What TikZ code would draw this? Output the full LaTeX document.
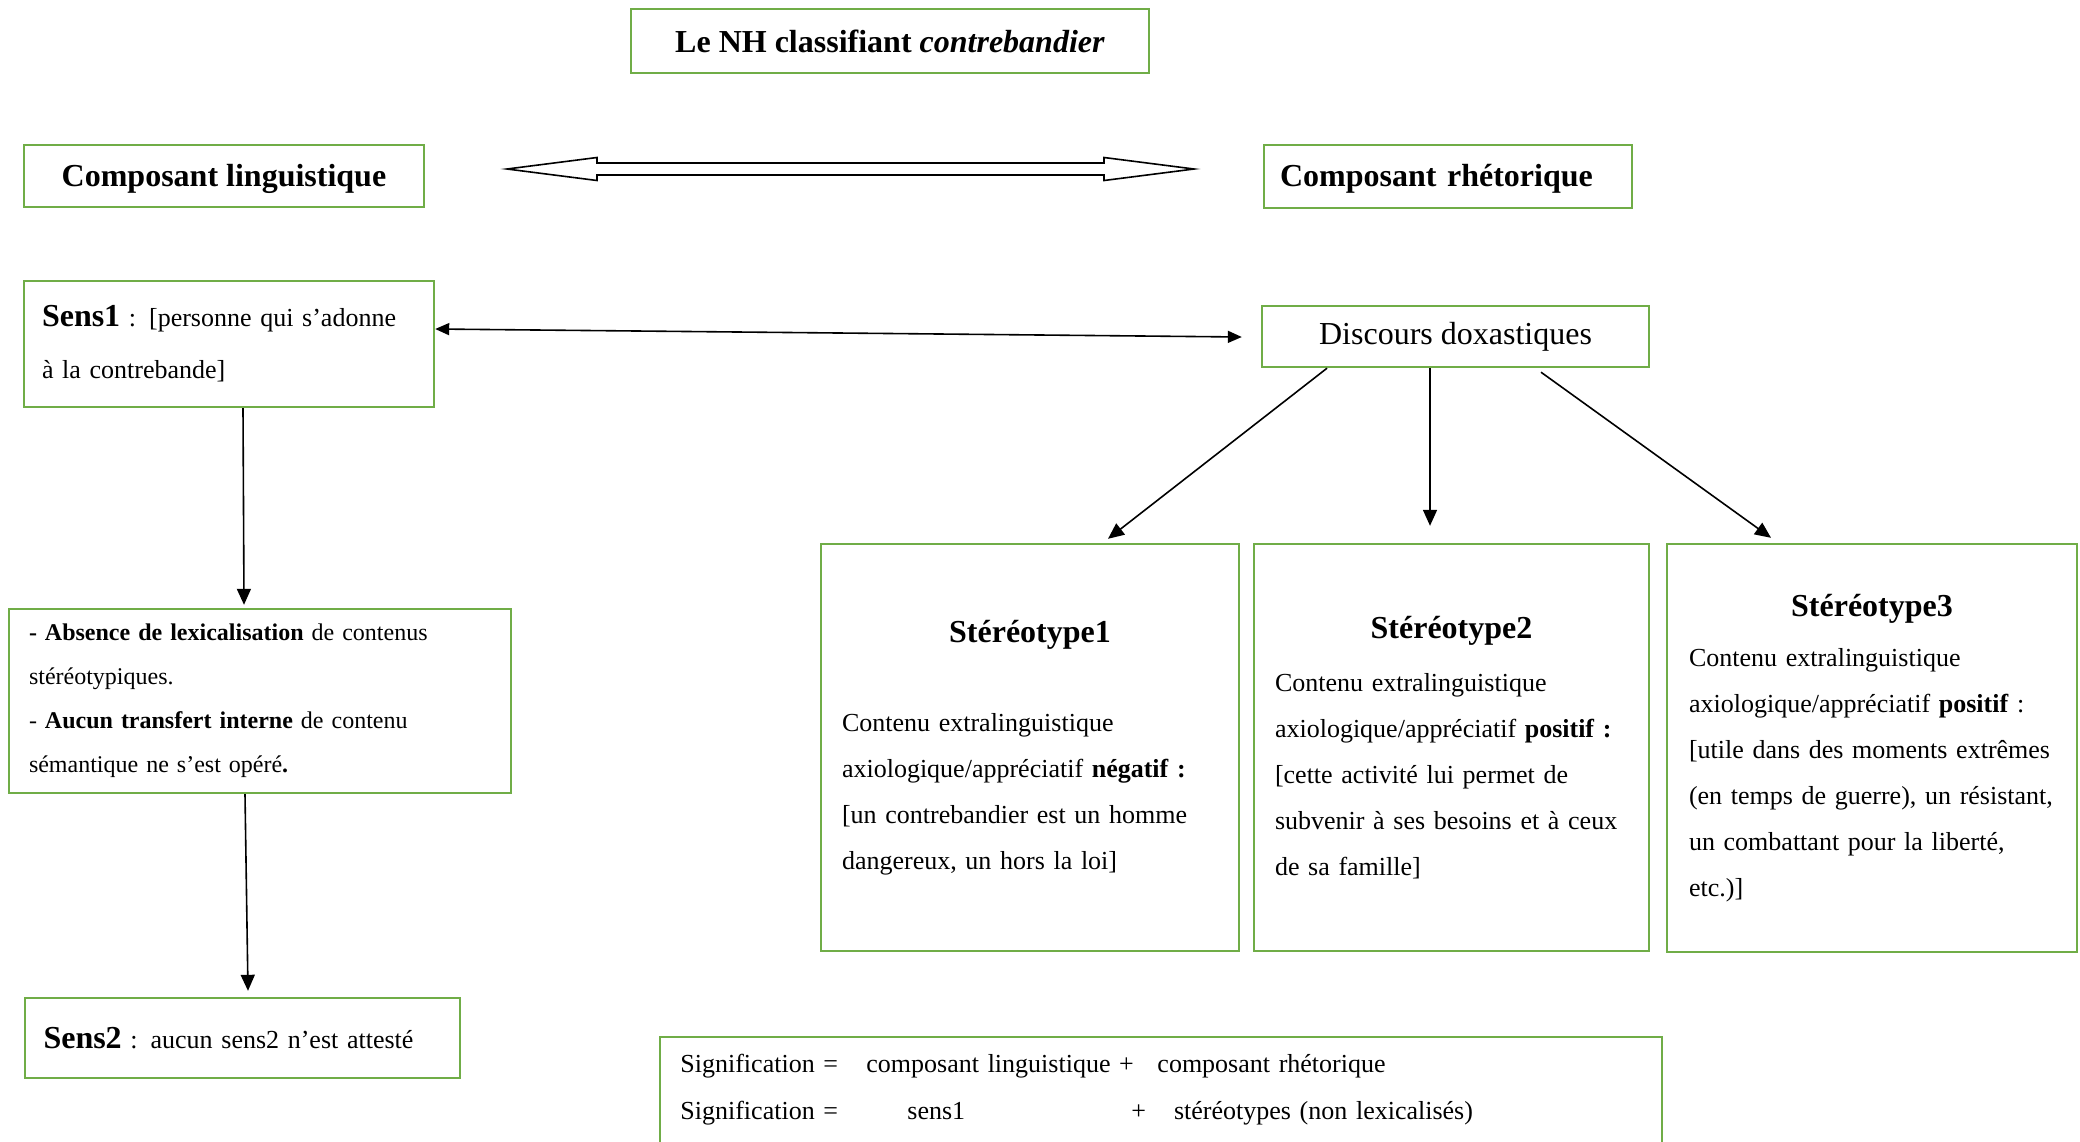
\documentclass[tikz,border=0pt]{standalone}
\usepackage{fontspec}
\setmainfont{Liberation Serif}
\usepackage{xcolor}
\usepackage{tikz}
\usetikzlibrary{arrows.meta,calc}
\definecolor{boxgreen}{RGB}{112,173,71}

\begin{document}
\begin{tikzpicture}[x=0.5pt,y=-0.5pt,
    box/.style={draw=boxgreen, line width=1.2pt, inner sep=0pt, fill=white},
    big/.style={font=\fontsize{16}{19}\selectfont},
    arr/.style={-{Triangle[length=8pt,width=7pt]}, line width=0.8pt},
    biarr/.style={{Triangle[length=7pt,width=6pt]}-{Triangle[length=7pt,width=6pt]}, line width=0.8pt}]
  \useasboundingbox (0,0) rectangle (2080,1141);

  % Title
  \node[box, big, minimum width=259pt, minimum height=32pt] (titre) at (890,41)
    {\bfseries Le NH classifiant \textit{contrebandier}};

  % Components
  \node[box, big, minimum width=200pt, minimum height=31pt, text depth=1pt] (compL) at (224,176)
    {\bfseries Composant linguistique};
  \node[box, big, minimum width=184pt, minimum height=31.5pt, text depth=1pt, text width=168pt, align=left] (compR) at (1448,176.5)
    {\bfseries Composant rhétorique};

  % Double arrow between the components
  \coordinate (dl) at (507,169);
  \coordinate (dr) at (1194,169);
  \draw[line width=0.8pt] (dl) -- ++(90,-11.5) -- ++(0,5.5) -- ($(dr)+(-90,-6)$) -- ++(0,-5.5)
    -- (dr) -- ++(-90,11.5) -- ++(0,-5.5) -- ($(dl)+(90,6)$) -- ++(0,5.5) -- cycle;

  % Linguistic side
  \node[box, minimum width=205pt, minimum height=63pt, text width=187pt, align=left,
        font=\fontsize{13}{26}\selectfont] (sens1) at (229,344)
    {{\fontsize{16}{19}\selectfont\bfseries Sens1} : [personne qui s’adonne\\
     à la contrebande]};
  \node[box, minimum width=251pt, minimum height=92pt, text width=231pt, align=left,
        font=\fontsize{12}{22}\selectfont] (absn) at (260,701)
    {\textbf{- Absence de lexicalisation} de contenus\\
     stéréotypiques.\\
     - \textbf{Aucun transfert interne} de contenu\\
     sémantique ne s’est opéré\textbf{.}};
  \node[box, minimum width=217.5pt, minimum height=40pt, text width=199pt, align=left,
        font=\fontsize{13}{16}\selectfont] (sens2) at (242.5,1038)
    {{\fontsize{16}{19}\selectfont\bfseries Sens2} : aucun sens2 n’est attesté};

  % Rhetorical side
  \node[box, big, minimum width=193.5pt, minimum height=30.5pt] (disc) at (1455.5,336.5)
    {Discours doxastiques};

  \node[box, minimum width=209pt, minimum height=203.5pt, text width=188pt, align=left,
        font=\fontsize{13}{23}\selectfont] (st1) at (1030,747.5)
    {\hfill{\fontsize{16}{19}\selectfont\bfseries Stéréotype1}\hfill\null\\[21.5pt]
     Contenu extralinguistique\\
     axiologique/appréciatif \textbf{négatif :}\\
     {[}un contrebandier est un homme\\
     dangereux, un hors la loi]};
  \node[box, minimum width=197.5pt, minimum height=203.5pt, text width=176.5pt, align=left,
        font=\fontsize{13}{23}\selectfont] (st2) at (1451.5,747.5)
    {\hfill{\fontsize{16}{19}\selectfont\bfseries Stéréotype2}\hfill\null\\[3.5pt]
     Contenu extralinguistique\\
     axiologique/appréciatif \textbf{positif :}\\
     {[}cette activité lui permet de\\
     subvenir à ses besoins et à ceux\\
     de sa famille]};
  \node[box, minimum width=205pt, minimum height=204pt, text width=183pt, align=left,
        font=\fontsize{13}{23}\selectfont] (st3) at (1872,748)
    {\hfill{\fontsize{16}{19}\selectfont\bfseries Stéréotype3}\hfill\null\\[2pt]
     Contenu extralinguistique\\
     axiologique/appréciatif \textbf{positif} :\\
     {[}utile dans des moments extrêmes\\
     (en temps de guerre), un résistant,\\
     un combattant pour la liberté,\\
     etc.)]};

  % Signification
  \node[box, anchor=north west, minimum width=501pt, minimum height=70pt] (sig) at (659,1036) {};
  \node[anchor=north west, inner sep=0pt, text width=480pt, align=left,
        font=\fontsize{13}{23.5}\selectfont] (sigtxt) at (680,1054)
    {\makebox[93pt][l]{Signification =}\makebox[145.5pt][l]{composant linguistique +}composant rhétorique\\
     \makebox[93pt][l]{Signification =}\makebox[132.5pt][l]{\hspace{20.5pt}sens1}+\hspace{14pt}stéréotypes (non lexicalisés)};

  % Connectors
  \draw[biarr] ($(sens1.east)+(0,-15)$) -- ($(disc.west)+(-19,0.5)$);
  \draw[arr] ($(disc.south)+(-128.5,0)$) -- ($(st1.north)+(78,-4)$);
  \draw[arr] ($(disc.south)+(-25.5,0)$) -- ($(st2.north)+(-21.5,-17)$);
  \draw[arr] ($(disc.south)+(85.5,4)$) -- ($(st3.north)+(-101,-5)$);
  \draw[arr] ($(sens1.south)+(14,0)$) -- ($(absn.north)+(-16,-3)$);
  \draw[arr] ($(absn.south)+(-15,0)$) -- ($(sens2.north)+(5.5,-6)$);
\end{tikzpicture}
\end{document}
